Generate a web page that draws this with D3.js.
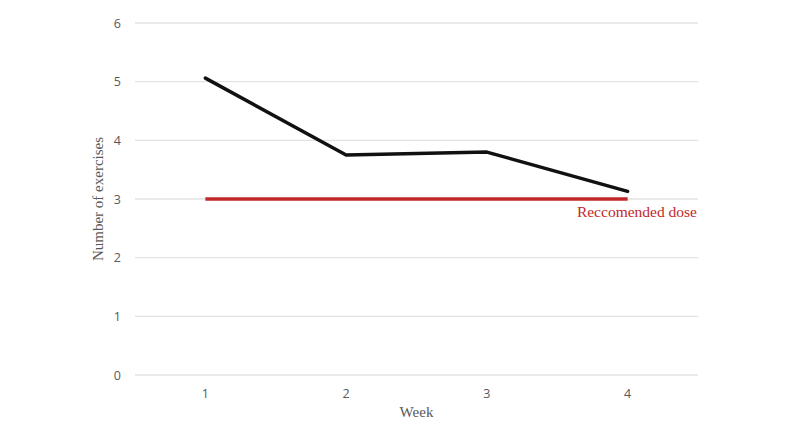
<!DOCTYPE html>
<html><head><meta charset="utf-8">
<script src="https://cdn.jsdelivr.net/npm/d3@7"></script>
<style>body{margin:0;background:#fff}</style>
</head><body>
<svg id="c" width="800" height="433"></svg>
<script>
const weeks = ["1","2","3","4"];
const exercises = [5.06, 3.75, 3.80, 3.13];
const recommended = [3, 3, 3, 3];
const yTicks = [0,1,2,3,4,5,6];

const svg = d3.select("#c");
const m = {left:135, right:102, top:23, bottom:58};
const W = 800, H = 433;
const x = d3.scaleBand().domain(weeks).range([m.left, W - m.right]);
const y = d3.scaleLinear().domain([0,6]).range([H - m.bottom, m.top]);
const cx = d => x(d) + x.bandwidth()/2;

// gridlines
svg.append("g").selectAll("line").data(yTicks).join("line")
  .attr("x1", m.left).attr("x2", W - m.right)
  .attr("y1", d => y(d)).attr("y2", d => y(d))
  .attr("stroke", "#e3e3e3").attr("stroke-width", 1.3);

// y axis labels
const ya = svg.append("g").attr("transform", `translate(${m.left - 8},0)`)
  .call(d3.axisLeft(y).tickValues(yTicks).tickSize(0).tickPadding(6).tickFormat(d3.format("d")));
ya.select(".domain").remove();
ya.selectAll("text").attr("font-family", "Open Sans, sans-serif").attr("font-size", 12.5).attr("fill", "#595959");

// x axis labels
const xa = svg.append("g").attr("transform", `translate(0,${y(0) + 8})`)
  .call(d3.axisBottom(x).tickSize(0).tickPadding(6));
xa.select(".domain").remove();
xa.selectAll("text").attr("font-family", "Open Sans, sans-serif").attr("font-size", 12.5).attr("fill", "#595959");

// axis titles
svg.append("text").attr("x", (m.left + W - m.right)/2).attr("y", 417)
  .attr("text-anchor", "middle").attr("font-family", "Liberation Serif, serif")
  .attr("font-size", 15).attr("fill", "#595959").text("Week");
svg.append("text").attr("transform", `translate(103,${y(3)}) rotate(-90)`)
  .attr("text-anchor", "middle").attr("font-family", "Liberation Serif, serif")
  .attr("font-size", 15).attr("fill", "#595959").text("Number of exercises");

// recommended line
svg.append("path").datum(recommended.map((v,i)=>[weeks[i], v]))
  .attr("d", d3.line().x(d => cx(d[0])).y(d => y(d[1])))
  .attr("fill", "none").attr("stroke", "#c0282a").attr("stroke-width", 3.5);

// exercises line
svg.append("path").datum(exercises.map((v,i)=>[weeks[i], v]))
  .attr("d", d3.line().x(d => cx(d[0])).y(d => y(d[1])))
  .attr("fill", "none").attr("stroke", "#111").attr("stroke-width", 3.5)
  .attr("stroke-linecap", "round").attr("stroke-linejoin", "round");

svg.append("text").attr("x", W - m.right - 1).attr("y", y(3) + 18)
  .attr("text-anchor", "end").attr("font-family", "Liberation Serif, serif")
  .attr("font-size", 15.5).attr("fill", "#c0282a").text("Reccomended dose");
</script>
</body></html>
